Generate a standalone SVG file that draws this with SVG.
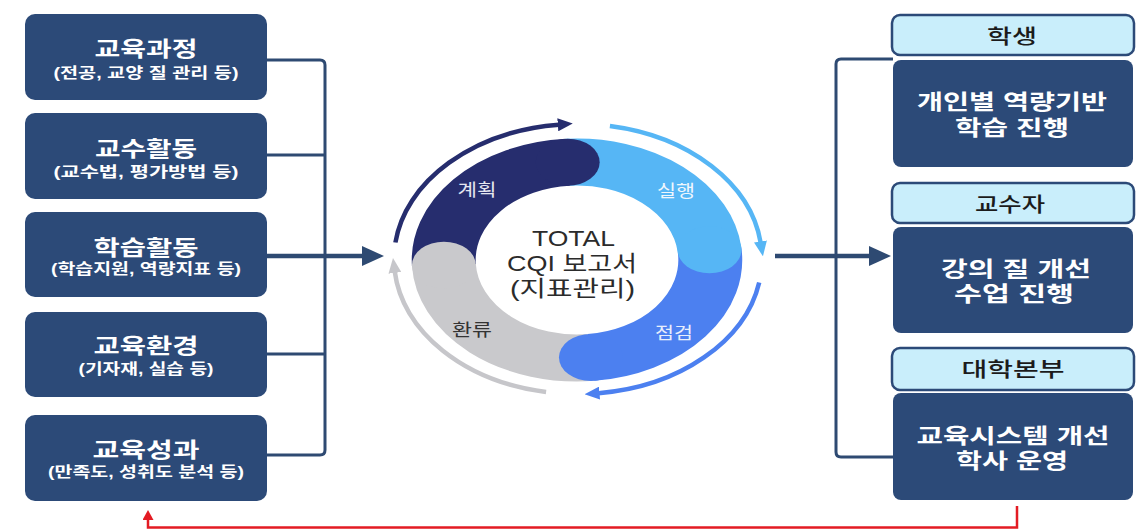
<svg xmlns="http://www.w3.org/2000/svg" width="1147" height="529" viewBox="0 0 1147 529">
<style>
.box{fill:#2c4a78}
.lbl{fill:#c9eefb;stroke:#2c4a78;stroke-width:2.5}
.t{font-family:"Liberation Sans","Noto Sans CJK KR",sans-serif;text-anchor:middle}
.w{fill:#ffffff;font-weight:700}
.title{font-size:21px}
.sub{font-size:15px}
.body{font-size:21px}
.lt{fill:#1b1b1b;font-size:20px;font-weight:500}
.ctr{fill:#2b2b2b;font-size:22px}
.seg{font-size:17px}
.conn{fill:none;stroke:#2e4a72;stroke-width:3;stroke-linejoin:round}
.arr{fill:none;stroke-width:4.5}
</style>
<defs>
<marker id="mNavy" markerUnits="userSpaceOnUse" markerWidth="15" markerHeight="13" viewBox="0 0 15 13" refX="1" refY="6.5" orient="auto"><path d="M0,0 L15,6.5 L0,13z" fill="#262d6e"/></marker>
<marker id="mLight" markerUnits="userSpaceOnUse" markerWidth="15" markerHeight="13" viewBox="0 0 15 13" refX="1" refY="6.5" orient="auto"><path d="M0,0 L15,6.5 L0,13z" fill="#56b6f5"/></marker>
<marker id="mMed" markerUnits="userSpaceOnUse" markerWidth="15" markerHeight="13" viewBox="0 0 15 13" refX="1" refY="6.5" orient="auto"><path d="M0,0 L15,6.5 L0,13z" fill="#4c80f0"/></marker>
<marker id="mGray" markerUnits="userSpaceOnUse" markerWidth="15" markerHeight="13" viewBox="0 0 15 13" refX="1" refY="6.5" orient="auto"><path d="M0,0 L15,6.5 L0,13z" fill="#c6c6ca"/></marker>
<marker id="mConn" markerUnits="userSpaceOnUse" markerWidth="22" markerHeight="20" viewBox="0 0 22 20" refX="1" refY="10" orient="auto"><path d="M0,0 L22,10 L0,20z" fill="#2e4a72"/></marker>
<marker id="mRed" markerUnits="userSpaceOnUse" markerWidth="10" markerHeight="11" viewBox="0 0 10 11" refX="1" refY="5.5" orient="auto"><path d="M0,0 L10,5.5 L0,11z" fill="#e31b23"/></marker>
</defs>

<rect width="1147" height="529" fill="#ffffff"/>

<g id="connectors">
  <path class="conn" d="M267,60 H320 Q325,60 325,65 V450 Q325,455 320,455 H267"/>
  <path class="conn" d="M267,155 H325 M267,354 H325"/>
  <path class="conn" style="stroke-width:4.5" d="M267,256 H363" marker-end="url(#mConn)"/>
  <path class="conn" d="M893,59 H841 Q836,59 836,64 V452 Q836,457 841,457 H893"/>
  <path class="conn" style="stroke-width:4.5" d="M775,256 H870" marker-end="url(#mConn)"/>
  <path d="M1017,506 V527.5 H148 V519" fill="none" stroke="#e31b23" stroke-width="2.5" marker-end="url(#mRed)"/>
  <path class="arr" stroke="#262d6e" d="M395.4,242.5 A184,135 0 0 1 558.8,124.7" marker-end="url(#mNavy)"/>
  <path class="arr" stroke="#56b6f5" d="M609.9,126 A184,135 0 0 1 760.6,242.5" marker-end="url(#mLight)"/>
  <path class="arr" stroke="#4c80f0" d="M759.2,282.4 A184,135 0 0 1 598.5,393.2" marker-end="url(#mMed)"/>
  <path class="arr" stroke="#c6c6ca" d="M546.1,392 A184,135 0 0 1 394.8,271.9" marker-end="url(#mGray)"/>
</g>

<g id="n-curriculum">
  <rect class="box" x="25" y="14" width="242" height="86" rx="10"/>
  <text class="t w"><tspan class="title" x="146" y="55.5" textLength="103" lengthAdjust="spacingAndGlyphs">교육과정</tspan><tspan class="sub" x="146" y="77.5" textLength="185" lengthAdjust="spacingAndGlyphs">(전공, 교양 질 관리 등)</tspan></text>
</g>
<g id="n-teaching">
  <rect class="box" x="25" y="113" width="242" height="86" rx="10"/>
  <text class="t w"><tspan class="title" x="146" y="156" textLength="102" lengthAdjust="spacingAndGlyphs">교수활동</tspan><tspan class="sub" x="146" y="176.5" textLength="185" lengthAdjust="spacingAndGlyphs">(교수법, 평가방법 등)</tspan></text>
</g>
<g id="n-learning">
  <rect class="box" x="25" y="212" width="242" height="85" rx="10"/>
  <text class="t w"><tspan class="title" x="146" y="255" textLength="105" lengthAdjust="spacingAndGlyphs">학습활동</tspan><tspan class="sub" x="146" y="274" textLength="190" lengthAdjust="spacingAndGlyphs">(학습지원, 역량지표 등)</tspan></text>
</g>
<g id="n-environment">
  <rect class="box" x="25" y="312" width="242" height="85" rx="10"/>
  <text class="t w"><tspan class="title" x="146" y="353" textLength="105" lengthAdjust="spacingAndGlyphs">교육환경</tspan><tspan class="sub" x="146" y="373.5" textLength="135" lengthAdjust="spacingAndGlyphs">(기자재, 실습 등)</tspan></text>
</g>
<g id="n-outcome">
  <rect class="box" x="25" y="415" width="242" height="86" rx="10"/>
  <text class="t w"><tspan class="title" x="146" y="457" textLength="107" lengthAdjust="spacingAndGlyphs">교육성과</tspan><tspan class="sub" x="146" y="476.5" textLength="196" lengthAdjust="spacingAndGlyphs">(만족도, 성취도 분석 등)</tspan></text>
</g>

<g id="cycle">
  <g transform="translate(577,260) scale(1.36,1)">
    <g fill="none" stroke-width="47">
      <path d="M-97.87,5.13 A98,98 0 0 1 -6.84,-97.76" stroke="#262d6e"/>
      <path d="M-6.84,-97.76 A98,98 0 0 1 97.46,-10.24" stroke="#56b6f5"/>
      <path d="M97.46,-10.24 A98,98 0 0 1 10.24,97.46" stroke="#4c80f0"/>
      <path d="M10.24,97.46 A98,98 0 0 1 -97.87,5.13" stroke="#c9c9cc"/>
    </g>
    <circle cx="-6.84" cy="-97.76" r="23.5" fill="#262d6e"/>
    <circle cx="97.46" cy="-10.24" r="23.5" fill="#56b6f5"/>
    <circle cx="10.24" cy="97.46" r="23.5" fill="#4c80f0"/>
    <circle cx="-97.87" cy="5.13" r="23.5" fill="#c9c9cc"/>
  </g>
  <text class="t seg" x="477" y="196" fill="#e4e6f0" textLength="39" lengthAdjust="spacingAndGlyphs">계획</text>
  <text class="t seg" x="676" y="197" fill="#f0f7fd" textLength="38" lengthAdjust="spacingAndGlyphs">실행</text>
  <text class="t seg" x="472" y="336" fill="#333333" textLength="40" lengthAdjust="spacingAndGlyphs">환류</text>
  <text class="t seg" x="674" y="339" fill="#e8eefc" textLength="38" lengthAdjust="spacingAndGlyphs">점검</text>
  <text class="t ctr"><tspan x="573.5" y="246" textLength="83" lengthAdjust="spacingAndGlyphs">TOTAL</tspan><tspan x="572" y="271" textLength="130" lengthAdjust="spacingAndGlyphs">CQI 보고서</tspan><tspan x="572.5" y="296" textLength="125" lengthAdjust="spacingAndGlyphs">(지표관리)</tspan></text>
</g>

<g id="n-student">
  <rect class="lbl" x="892" y="15" width="242" height="40" rx="8"/>
  <rect class="box" x="893" y="60" width="240" height="107" rx="8"/>
  <text class="t lt" x="1012" y="44" textLength="50" lengthAdjust="spacingAndGlyphs">학생</text>
  <text class="t w body"><tspan x="1012" y="109" textLength="190" lengthAdjust="spacingAndGlyphs">개인별 역량기반</tspan><tspan x="1012" y="135" textLength="114" lengthAdjust="spacingAndGlyphs">학습 진행</tspan></text>
</g>
<g id="n-professor">
  <rect class="lbl" x="892" y="183" width="242" height="40" rx="8"/>
  <rect class="box" x="893" y="227" width="240" height="106" rx="8"/>
  <text class="t lt" x="1010" y="212" textLength="70" lengthAdjust="spacingAndGlyphs">교수자</text>
  <text class="t w body"><tspan x="1016" y="276" textLength="150" lengthAdjust="spacingAndGlyphs">강의 질 개선</tspan><tspan x="1014" y="301" textLength="120" lengthAdjust="spacingAndGlyphs">수업 진행</tspan></text>
</g>
<g id="n-hq">
  <rect class="lbl" x="892" y="348" width="242" height="42" rx="8"/>
  <rect class="box" x="893" y="393" width="240" height="107" rx="8"/>
  <text class="t lt" x="1013" y="377" textLength="103" lengthAdjust="spacingAndGlyphs">대학본부</text>
  <text class="t w body"><tspan x="1013" y="443" textLength="193" lengthAdjust="spacingAndGlyphs">교육시스템 개선</tspan><tspan x="1012" y="468" textLength="112" lengthAdjust="spacingAndGlyphs">학사 운영</tspan></text>
</g>
</svg>
